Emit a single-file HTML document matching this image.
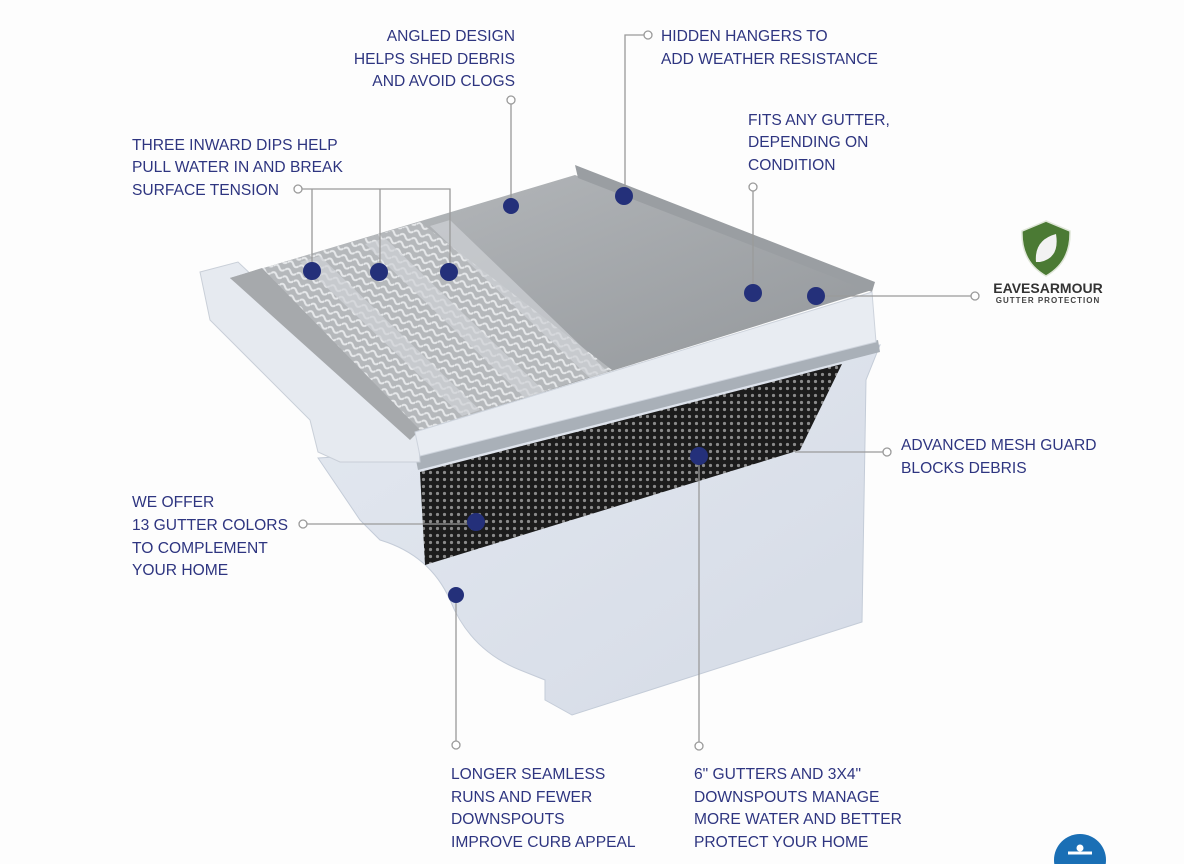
<!DOCTYPE html>
<html><head><meta charset="utf-8"><style>
html,body{margin:0;padding:0;background:#fdfdfd;}
svg{display:block}
text{font-family:"Liberation Sans",sans-serif;fill:#2e3580;font-size:15.6px;}
</style></head><body>
<svg width="1184" height="864" viewBox="0 0 1184 864" xmlns="http://www.w3.org/2000/svg">
<defs>
<linearGradient id="top" x1="0" y1="0" x2="1" y2="1">
<stop offset="0" stop-color="#b9bcbf"/><stop offset="1" stop-color="#8e9296"/></linearGradient>
<linearGradient id="body" x1="0" y1="0" x2="1" y2="1">
<stop offset="0" stop-color="#e3e8f0"/><stop offset="1" stop-color="#d5dbe6"/></linearGradient>
<pattern id="wave" width="12" height="8" patternUnits="userSpaceOnUse" patternTransform="rotate(20)">
<rect width="12" height="8" fill="#b5b8bb"/><path d="M0 4 Q3 0 6 4 T12 4" stroke="#e6e8ea" stroke-width="2" fill="none"/></pattern>
<pattern id="mesh" width="7" height="7" patternUnits="userSpaceOnUse">
<rect width="7" height="7" fill="#1c1c1c"/><circle cx="3.5" cy="3.5" r="1.6" fill="#8a8a8a"/></pattern>
</defs>
<rect width="1184" height="864" fill="#fdfdfd"/>
<path d="M318 458 L420 452 L880 345 L866 380 L862 622 L572 715 L545 700 L545 680 L520 670 Q470 650 450 600 Q430 555 380 540 L360 520 Z" fill="url(#body)" stroke="#c4ccd8"/>
<path d="M420 472 L842 364 L800 450 L425 565 Z" fill="url(#mesh)"/>
<path d="M415 455 L878 340 L880 352 L418 470 Z" fill="#a9b0b8"/>
<path d="M200 272 L238 262 L418 432 L420 462 L340 462 L318 452 L310 420 L210 320 Z" fill="#e6eaf0" stroke="#c9cfd8"/>
<path d="M230 278 L575 175 L872 290 L415 432 Z" fill="url(#top)"/>
<path d="M230 278 L420 222 L612 370 L415 432 Z" fill="url(#wave)"/>
<path d="M230 278 L262 268 L420 430 L410 440 Z" fill="#a6a9ac"/>
<path d="M300 262 L320 256 L480 410 L462 416 Z" fill="#cfd2d5" opacity=".7"/>
<path d="M365 244 L385 238 L545 392 L525 398 Z" fill="#cfd2d5" opacity=".7"/>
<path d="M430 226 L450 220 L608 372 L590 378 Z" fill="#cfd2d5" opacity=".7"/>
<path d="M575 165 L578 178 L872 292 L875 282 Z" fill="#9a9ea2"/>
<path d="M415 432 L872 292 L876 342 L420 456 Z" fill="#e8ecf2" stroke="#cdd3dc"/>
<g stroke="#9a9a9a" stroke-width="1.3" fill="none">
<path d="M511 104 V206"/>
<path d="M644 35 H625 V196"/>
<path d="M753 191 V293"/>
<path d="M302 189 H450 V272 M312 189 V271 M380 189 V272"/>
<path d="M816 296 H971"/>
<path d="M883 452 H795"/>
<path d="M307 524 H476"/>
<path d="M456 595 V741"/>
<path d="M699 456 V742"/>
</g>
<g fill="#fff" stroke="#9a9a9a" stroke-width="1.3">
<circle cx="511" cy="100" r="4"/><circle cx="648" cy="35" r="4"/><circle cx="753" cy="187" r="4"/>
<circle cx="298" cy="189" r="4"/><circle cx="975" cy="296" r="4"/><circle cx="887" cy="452" r="4"/>
<circle cx="303" cy="524" r="4"/><circle cx="456" cy="745" r="4"/><circle cx="699" cy="746" r="4"/>
</g>
<g fill="#24307a">
<circle cx="511" cy="206" r="8"/><circle cx="624" cy="196" r="9"/><circle cx="753" cy="293" r="9"/>
<circle cx="816" cy="296" r="9"/><circle cx="312" cy="271" r="9"/><circle cx="379" cy="272" r="9"/>
<circle cx="449" cy="272" r="9"/><circle cx="699" cy="456" r="9"/><circle cx="476" cy="522" r="9"/>
<circle cx="456" cy="595" r="8"/>
</g>
<g text-anchor="end">
<text x="515" y="41">ANGLED DESIGN</text>
<text x="515" y="64">HELPS SHED DEBRIS</text>
<text x="515" y="86">AND AVOID CLOGS</text>
</g>
<text x="661" y="41">HIDDEN HANGERS TO</text>
<text x="661" y="64">ADD WEATHER RESISTANCE</text>
<text x="748" y="125">FITS ANY GUTTER,</text>
<text x="748" y="147">DEPENDING ON</text>
<text x="748" y="170">CONDITION</text>
<text x="132" y="150">THREE INWARD DIPS HELP</text>
<text x="132" y="172">PULL WATER IN AND BREAK</text>
<text x="132" y="195">SURFACE TENSION</text>
<text x="901" y="450">ADVANCED MESH GUARD</text>
<text x="901" y="473">BLOCKS DEBRIS</text>
<text x="132" y="507">WE OFFER</text>
<text x="132" y="530">13 GUTTER COLORS</text>
<text x="132" y="553">TO COMPLEMENT</text>
<text x="132" y="575">YOUR HOME</text>
<text x="451" y="779">LONGER SEAMLESS</text>
<text x="451" y="802">RUNS AND FEWER</text>
<text x="451" y="824">DOWNSPOUTS</text>
<text x="451" y="847">IMPROVE CURB APPEAL</text>
<text x="694" y="779">6" GUTTERS AND 3X4"</text>
<text x="694" y="802">DOWNSPOUTS MANAGE</text>
<text x="694" y="824">MORE WATER AND BETTER</text>
<text x="694" y="847">PROTECT YOUR HOME</text>
<path d="M1046 221 L1070 231 Q1071 262 1046 276 Q1021 262 1022 231 Z" fill="#4b7a34" stroke="#dfe6d8" stroke-width="1.5"/>
<path d="M1036 262 Q1034 240 1056 234 Q1060 258 1040 262 Z" fill="#f2f2f2"/>
<text x="1048" y="293" text-anchor="middle" style="font-weight:bold;font-size:14px;fill:#333">EAVESARMOUR</text>
<text x="1048" y="303" text-anchor="middle" style="font-weight:bold;font-size:8px;fill:#444;letter-spacing:1px">GUTTER PROTECTION</text>
<circle cx="1080" cy="860" r="26" fill="#1a6fb5"/>
<circle cx="1080" cy="848" r="3.5" fill="#fff"/>
<path d="M1068 853 H1092" stroke="#fff" stroke-width="3"/>
</svg>
</body></html>
